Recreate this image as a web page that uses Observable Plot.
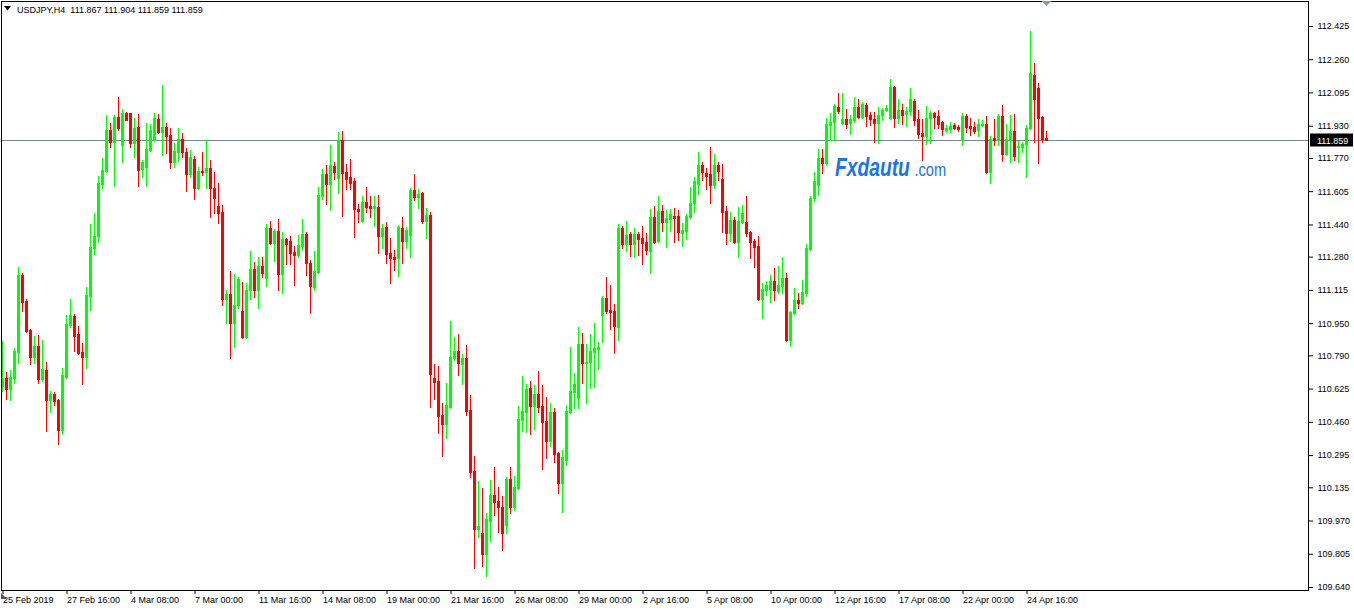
<!DOCTYPE html>
<html><head><meta charset="utf-8">
<script src="https://cdn.jsdelivr.net/npm/d3@7"></script>
<script src="https://cdn.jsdelivr.net/npm/@observablehq/plot@0.6"></script>
<style>
html,body{margin:0;padding:0;background:#fff;}
#chart{position:relative;width:1354px;height:610px;overflow:hidden;}
</style></head><body><div id="chart"></div>
<script>
const symbolLabel = "USDJPY,H4";
const headerValues = ["111.867", "111.904", "111.859", "111.859"];
const watermarkMain = "Fxdautu";
const watermarkTld = ".com";

const openP = [
110.640,110.680,110.625,110.680,110.805,111.191,111.060,110.915,110.780,110.835,
110.675,110.715,110.570,110.600,110.570,110.418,110.685,110.940,110.985,110.895,
110.805,110.780,111.086,111.321,111.381,111.643,111.703,111.908,111.848,111.973,
111.833,111.993,111.993,111.843,111.923,111.713,111.723,111.808,111.858,111.963,
111.898,111.923,111.883,111.748,111.798,111.863,111.798,111.688,111.763,111.623,
111.703,111.698,111.718,111.623,111.531,111.501,111.071,111.096,110.950,111.040,
111.010,110.880,111.116,111.221,111.116,111.236,111.176,111.421,111.346,111.406,
111.196,111.366,111.356,111.301,111.286,111.331,111.391,111.246,111.131,111.206,
111.583,111.688,111.643,111.728,111.668,111.858,111.698,111.673,111.653,111.516,
111.456,111.551,111.531,111.521,111.526,111.381,111.426,111.296,111.276,111.271,
111.421,111.356,111.386,111.613,111.578,111.598,111.456,111.486,110.680,110.665,
110.493,110.448,110.533,110.775,110.810,110.745,110.775,110.518,110.218,109.927,
109.907,109.802,109.967,110.098,110.067,110.037,109.947,110.178,110.037,110.133,
110.468,110.508,110.628,110.538,110.598,110.538,110.463,110.363,110.508,110.303,
110.158,110.273,110.508,110.608,110.580,110.845,110.750,110.755,110.805,110.820,
110.990,111.076,111.015,111.010,110.930,111.421,111.341,111.391,111.341,111.391,
111.371,111.351,111.306,111.476,111.356,111.506,111.451,111.466,111.481,111.481,
111.396,111.406,111.476,111.546,111.643,111.733,111.693,111.688,111.638,111.733,
111.663,111.506,111.396,111.461,111.351,111.451,111.451,111.401,111.356,111.331,
111.071,111.116,111.121,111.161,111.111,111.136,111.176,110.865,111.000,111.066,
111.050,111.101,111.316,111.571,111.638,111.768,111.743,111.933,111.948,112.023,
111.943,111.963,111.943,111.958,112.023,111.973,112.033,111.983,111.963,111.943,
111.983,112.008,111.968,112.124,111.968,112.008,111.988,112.003,112.053,111.963,
111.893,111.878,111.968,111.993,111.978,111.948,111.908,111.913,111.933,111.923,
111.858,111.978,111.928,111.923,111.908,111.933,111.938,111.698,111.868,111.858,
111.978,111.788,111.863,111.903,111.823,111.823,111.838,111.918,112.182,112.119,
111.973,111.867];

const highP = [
110.860,110.705,110.715,110.825,111.231,111.201,111.071,110.920,110.885,110.890,
110.865,110.755,110.615,110.610,110.575,110.725,110.990,111.071,110.995,110.935,
110.850,111.131,111.441,111.496,111.678,111.768,111.983,111.943,111.983,112.074,
112.013,111.998,111.993,111.968,111.988,111.758,111.943,111.938,111.993,111.988,
112.134,111.943,111.918,111.843,111.918,111.893,111.818,111.808,111.778,111.723,
111.798,111.858,111.758,111.698,111.648,111.536,111.116,111.211,111.196,111.181,
111.156,111.151,111.306,111.251,111.276,111.276,111.441,111.456,111.416,111.466,
111.401,111.371,111.381,111.331,111.386,111.466,111.401,111.261,111.306,111.628,
111.713,111.733,111.833,111.748,111.898,111.903,111.738,111.763,111.668,111.541,
111.581,111.628,111.581,111.583,111.588,111.441,111.451,111.371,111.311,111.436,
111.476,111.426,111.623,111.688,111.618,111.603,111.521,111.501,110.745,110.735,
110.553,110.655,110.960,110.880,110.895,110.795,110.840,110.593,110.288,110.168,
110.133,110.007,110.173,110.238,110.138,110.093,110.188,110.238,110.193,110.538,
110.688,110.648,110.663,110.643,110.713,110.643,110.583,110.553,110.528,110.308,
110.318,110.543,110.830,110.700,110.930,110.900,110.845,110.895,110.950,110.855,
111.086,111.181,111.141,111.045,111.441,111.431,111.456,111.401,111.421,111.401,
111.431,111.396,111.516,111.531,111.581,111.536,111.511,111.516,111.521,111.511,
111.446,111.491,111.628,111.673,111.798,111.748,111.718,111.823,111.788,111.748,
111.738,111.531,111.501,111.476,111.526,111.536,111.581,111.406,111.366,111.381,
111.151,111.161,111.191,111.226,111.236,111.276,111.201,111.010,111.126,111.101,
111.166,111.341,111.581,111.698,111.813,111.813,111.968,111.993,112.038,112.094,
112.094,112.013,111.983,112.074,112.064,112.048,112.043,111.998,111.998,112.023,
112.018,112.033,112.164,112.129,112.063,112.038,112.023,112.119,112.064,112.008,
111.963,112.028,112.003,111.998,112.008,111.953,111.933,111.948,111.943,111.933,
111.993,111.988,111.968,111.948,111.963,111.958,111.978,111.878,111.963,111.988,
112.033,111.938,111.983,111.988,111.853,111.848,111.933,112.399,112.239,112.144,
111.978,111.904];

const lowP = [
110.615,110.575,110.570,110.655,110.750,111.010,110.905,110.745,110.750,110.655,
110.665,110.413,110.508,110.543,110.348,110.398,110.680,110.930,110.810,110.795,
110.650,110.725,111.015,111.291,111.351,111.623,111.698,111.823,111.633,111.908,
111.748,111.958,111.823,111.773,111.633,111.673,111.633,111.803,111.853,111.893,
111.783,111.793,111.718,111.723,111.753,111.773,111.608,111.673,111.568,111.618,
111.683,111.623,111.476,111.496,111.446,111.040,110.950,110.775,110.830,111.025,
110.875,110.875,111.071,111.081,111.025,111.181,111.136,111.341,111.256,111.116,
111.101,111.241,111.241,111.141,111.276,111.311,111.191,111.000,111.116,111.201,
111.568,111.541,111.511,111.663,111.598,111.481,111.618,111.618,111.376,111.451,
111.451,111.501,111.476,111.431,111.296,111.321,111.246,111.151,111.216,111.186,
111.246,111.321,111.276,111.561,111.521,111.446,111.371,110.533,110.575,110.403,
110.288,110.378,110.528,110.765,110.690,110.648,110.493,110.188,109.732,109.887,
109.742,109.697,109.867,109.997,109.912,109.822,109.907,110.007,110.022,110.128,
110.413,110.408,110.398,110.423,110.508,110.228,110.278,110.338,110.263,110.107,
110.012,110.248,110.503,110.528,110.528,110.655,110.553,110.630,110.635,110.720,
110.855,111.000,110.920,110.800,110.865,111.321,111.306,111.281,111.276,111.286,
111.241,111.291,111.201,111.346,111.351,111.406,111.326,111.406,111.351,111.361,
111.331,111.366,111.471,111.501,111.593,111.658,111.618,111.546,111.623,111.658,
111.401,111.341,111.356,111.346,111.276,111.446,111.381,111.271,111.231,111.066,
110.975,111.091,111.055,111.066,111.101,111.101,110.860,110.835,110.995,111.025,
111.045,111.086,111.311,111.556,111.588,111.693,111.733,111.858,111.858,111.993,
111.938,111.918,111.888,111.948,111.968,111.968,111.928,111.933,111.848,111.843,
111.958,112.003,111.963,111.923,111.943,111.938,111.928,111.983,111.933,111.868,
111.758,111.838,111.843,111.918,111.918,111.883,111.898,111.898,111.913,111.903,
111.833,111.898,111.883,111.893,111.878,111.928,111.693,111.648,111.833,111.833,
111.753,111.783,111.748,111.758,111.748,111.798,111.673,111.913,111.848,111.743,
111.848,111.859];

const closeP = [
110.675,110.625,110.685,110.810,111.191,111.055,110.910,110.780,110.835,110.675,
110.720,110.570,110.600,110.563,110.418,110.690,110.945,110.990,110.885,110.800,
110.780,111.091,111.326,111.381,111.648,111.708,111.908,111.848,111.973,111.918,
111.993,111.958,111.843,111.918,111.708,111.748,111.813,111.908,111.968,111.898,
111.923,111.878,111.748,111.803,111.863,111.798,111.688,111.773,111.623,111.703,
111.698,111.718,111.623,111.573,111.496,111.071,111.096,110.950,111.040,111.171,
110.880,111.116,111.221,111.116,111.236,111.201,111.421,111.346,111.406,111.196,
111.366,111.341,111.296,111.286,111.336,111.391,111.246,111.136,111.211,111.588,
111.688,111.643,111.733,111.698,111.858,111.693,111.663,111.648,111.516,111.506,
111.551,111.526,111.521,111.531,111.381,111.421,111.291,111.271,111.266,111.426,
111.356,111.411,111.613,111.578,111.593,111.456,111.486,110.698,110.660,110.488,
110.448,110.543,110.780,110.810,110.750,110.775,110.513,110.213,109.927,109.942,
109.802,109.977,110.098,110.062,110.037,109.907,110.178,110.037,110.138,110.473,
110.513,110.623,110.538,110.598,110.533,110.458,110.363,110.508,110.298,110.158,
110.283,110.513,110.613,110.650,110.845,110.750,110.755,110.810,110.825,110.830,
111.076,111.010,111.005,110.935,111.421,111.341,111.386,111.341,111.391,111.366,
111.346,111.311,111.476,111.351,111.506,111.451,111.471,111.491,111.471,111.401,
111.411,111.481,111.546,111.653,111.733,111.698,111.678,111.638,111.733,111.703,
111.501,111.396,111.461,111.351,111.456,111.496,111.396,111.351,111.326,111.071,
111.121,111.141,111.161,111.116,111.141,111.176,110.865,111.005,111.066,111.050,
111.106,111.321,111.571,111.653,111.768,111.743,111.938,111.948,112.028,112.003,
111.963,111.938,111.963,112.023,111.973,112.038,111.978,111.963,111.943,111.983,
112.008,112.018,112.124,111.968,112.008,111.983,112.003,112.064,111.958,111.888,
111.878,111.968,111.993,111.973,111.938,111.913,111.918,111.928,111.918,111.913,
111.978,111.923,111.918,111.903,111.938,111.938,111.698,111.863,111.858,111.978,
111.788,111.863,111.903,111.778,111.828,111.838,111.918,112.194,112.063,111.968,
111.863,111.859];

const timeLabels = ["25 Feb 2019","27 Feb 16:00","4 Mar 08:00","7 Mar 00:00","11 Mar 16:00",
"14 Mar 08:00","19 Mar 00:00","21 Mar 16:00","26 Mar 08:00","29 Mar 00:00","2 Apr 16:00",
"5 Apr 08:00","10 Apr 00:00","12 Apr 16:00","17 Apr 08:00","22 Apr 00:00","24 Apr 16:00"];
const barsPerLabel = 16;
const priceTicks = [112.425,112.260,112.095,111.930,111.770,111.605,111.440,111.280,111.115,
110.950,110.790,110.625,110.460,110.295,110.135,109.970,109.805,109.640];

const bars = openP.map((o, i) => ({i, o, h: highP[i], l: lowP[i], c: closeP[i]}));
const upBars = bars.filter(d => d.c >= d.o);
const downBars = bars.filter(d => d.c < d.o);
const last = bars[bars.length - 1];
const UP = "#00ff00", DOWN = "#ff0000";
const FONT = "'Liberation Sans', Arial, sans-serif";

function candleMarks(data, color) {
  return [
    Plot.rect(data, {x1: d => d.i - 0.125, x2: d => d.i + 0.125, y1: "h", y2: "l",
      fill: color, insetBottom: -1, shapeRendering: "crispEdges"}),
    Plot.rect(data, {x1: d => d.i - 0.375, x2: d => d.i + 0.375,
      y1: d => Math.max(d.o, d.c), y2: d => Math.min(d.o, d.c),
      fill: color, insetBottom: -1, shapeRendering: "crispEdges"})
  ];
}

const chart = Plot.plot({
  width: 1354, height: 610,
  marginLeft: 1, marginTop: 1, marginRight: 46, marginBottom: 20,
  style: {fontFamily: FONT, fontSize: "9px", background: "#fff", color: "#000", overflow: "visible"},
  x: {type: "linear", domain: [-0.375, 326.375]},
  y: {type: "linear", domain: [109.6252, 112.5490]},
  marks: [
    Plot.ruleY([last.c], {stroke: "#778899", strokeWidth: 1}),
    ...candleMarks(upBars, UP),
    ...candleMarks(downBars, DOWN),
    Plot.axisY(priceTicks, {anchor: "right", tickSize: 4, tickPadding: 5,
      tickFormat: d => d.toFixed(3), label: null, fontSize: 9}),
    Plot.axisX(timeLabels.map((_, k) => k * barsPerLabel), {anchor: "bottom", tickSize: 4, tickPadding: 2,
      tickFormat: d => timeLabels[Math.round(d / barsPerLabel)], textAnchor: "start", dx: 0,
      label: null, fontSize: 9}),
    Plot.frame({stroke: "#000"})
  ]
});

document.getElementById("chart").appendChild(chart);

const svg = d3.select(chart);
const ys = chart.scale("y");
const xs = chart.scale("x");
const extra = svg.append("g").attr("text-anchor", "start").attr("font-family", FONT);

// header
extra.append("path").attr("d", "M4,6 L11,6 L7.5,10.5 Z").attr("fill", "#000");
extra.append("text").attr("x", 17).attr("y", 13).attr("font-size", 9)
  .attr("fill", "#000").style("white-space", "pre")
  .text(symbolLabel + "  " + headerValues.join(" "));

// current price tag
const yLast = ys.apply(last.c);
extra.append("rect").attr("x", 1310).attr("y", yLast - 6.5).attr("width", 43).attr("height", 13).attr("fill", "#000");
extra.append("text").attr("x", 1317).attr("y", yLast + 3.5).attr("font-size", 9)
  .attr("fill", "#fff").text(last.c.toFixed(3));

// chart shift marker and scale marker
const xShift = xs.apply(last.i);
extra.append("path").attr("d", `M${xShift - 5},1 L${xShift + 5},1 L${xShift},6 Z`).attr("fill", "#8a9aa8");
extra.append("path").attr("d", "M1,593 L7,599 L1,599 Z").attr("fill", "#555");

// watermark (single text, horizontally condensed)
const wm = extra.append("text").attr("transform", "translate(835,176) scale(0.77,1)").attr("fill", "#1a73e8");
wm.append("tspan").attr("font-size", 25).attr("font-weight", "bold").attr("font-style", "italic").text(watermarkMain);
wm.append("tspan").attr("font-size", 19).attr("dx", 6).text(watermarkTld);
</script></body></html>
